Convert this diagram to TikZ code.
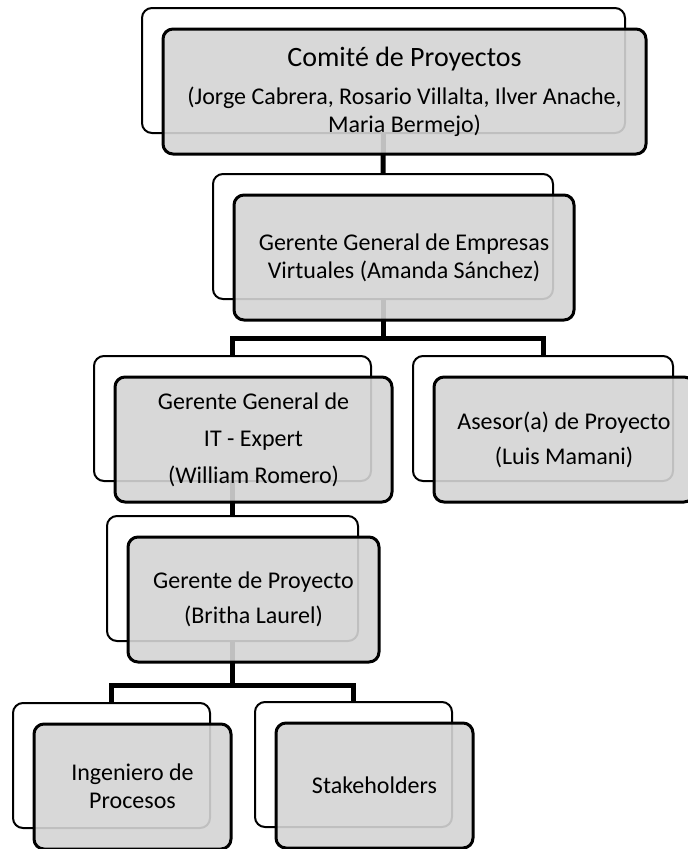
\documentclass[tikz,border=0pt]{standalone}
\usepackage{fontspec}
\setmainfont{Carlito}
\begin{document}
\begin{tikzpicture}[x=1pt, y=-1pt, thick,
        back/.style={rectangle, draw, line width=2pt, fill=white, rounded corners=10pt, minimum height=125pt, inner sep=0pt},
        front/.style={rectangle, draw, line width=3pt, fill=black!17, fill opacity=0.9, text opacity=1, rounded corners=10pt, minimum height=125pt, inner sep=0pt, align=center, xshift=21pt, yshift=-21pt, font=\fontsize{24}{28}\selectfont},
        link/.style={line width=5pt, draw=black}]
        \useasboundingbox (0,0) rectangle (688,849);
        % Back boxes
        \node (comiteB) [back, minimum width=483pt] at (383.5,70.5) {};
        \node (gerenteB) [back, minimum width=340pt] at (383,236.5) {};
        \node (itB) [back, minimum width=277pt] at (232.5,418.5) {};
        \node (asesorB) [back, minimum width=260pt] at (543,418.5) {};
        \node (proyectoB) [back, minimum width=251pt] at (232.5,578.5) {};
        \node (ingenieroB) [back, minimum width=197pt] at (111.5,765.5) {};
        \node (stakeB) [back, minimum width=197pt] at (353.5,764.5) {};

        % Links
        \coordinate (fork1) at (383,338);
        \coordinate (fork2) at (232.5,685);
        \draw[link] (comiteB.south) -- (gerenteB.north);
        \draw[link] (gerenteB.south) -- (fork1) -| (itB.north);
        \draw[link] (fork1) -| (asesorB.north);
        \draw[link] (itB.south) -- (proyectoB.north);
        \draw[link] (proyectoB.south) -- (fork2) -| (ingenieroB.north);
        \draw[link] (fork2) -| (stakeB.north);

        % Front boxes
        \node (comite) [front, minimum width=483pt] at (comiteB) {{\fontsize{28}{32}\selectfont Comité de Proyectos}\\[10pt](Jorge Cabrera, Rosario Villalta, Ilver Anache,\\Maria Bermejo)};
        \node (gerente) [front, minimum width=340pt] at (gerenteB) {Gerente General de Empresas\\Virtuales (Amanda Sánchez)};
        \node (it) [front, minimum width=277pt] at (itB) {Gerente General de\\[9pt]IT - Expert\\[9pt](William Romero)};
        \node (asesor) [front, minimum width=260pt] at (asesorB) {Asesor(a) de Proyecto\\[7pt](Luis Mamani)};
        \node (proyecto) [front, minimum width=251pt] at (proyectoB) {Gerente de Proyecto\\[7pt](Britha Laurel)};
        \node (ingeniero) [front, minimum width=197pt] at (ingenieroB) {Ingeniero de\\Procesos};
        \node (stake) [front, minimum width=197pt] at (stakeB) {Stakeholders};
\end{tikzpicture}
\end{document}
